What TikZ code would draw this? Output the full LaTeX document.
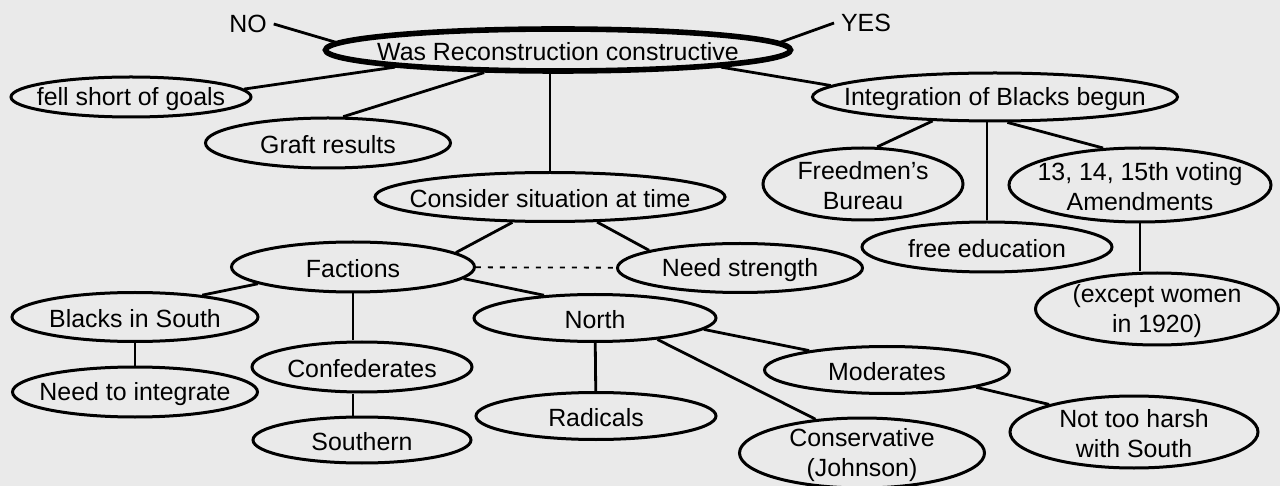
\documentclass[tikz,border=0pt]{standalone}
\usepackage{fontspec}
\setmainfont{Liberation Sans}
\usetikzlibrary{shapes.geometric}
\definecolor{paper}{RGB}{234,234,234}
\tikzset{
  bub/.style={ellipse, draw, line width=1.5pt, inner sep=0pt, fill=paper},
  say/.style={label={[align=center, yshift=-1pt]center:#1}},
  link/.style={line width=1.4pt},
}
\begin{document}
\begin{tikzpicture}[x=0.5pt, y=-0.5pt, font=\fontsize{12.45}{15}\selectfont]
\useasboundingbox (0,0) rectangle (1280,486);
\fill[paper] (0,0) rectangle (1280,486);
\node[bub, line width=2.8pt, minimum width=232.5pt, minimum height=21pt, say=Was Reconstruction constructive] (q) at (558,50) {};
\node (no) at (248,24) {NO};
\node (yes) at (866,23) {YES};
\node[bub, minimum width=120pt, minimum height=20pt, say=fell short of goals] (shortfall) at (131,97) {};
\node[bub, minimum width=122.5pt, minimum height=25pt, say=Graft results] (graft) at (328,143) {};
\node[bub, minimum width=182.5pt, minimum height=24pt, say=Integration of Blacks begun] (integ) at (995,97) {};
\node[bub, minimum width=175pt, minimum height=24.5pt, say=Consider situation at time] (consider) at (550,197) {};
\node[bub, minimum width=100pt, minimum height=36pt, say={Freedmen's\\Bureau}] (freedmen) at (863,184) {};
\node[bub, minimum width=131pt, minimum height=37pt, say={13, 14, 15th voting\\Amendments}] (amend) at (1140,185) {};
\node[bub, minimum width=125pt, minimum height=25pt, say=free education] (educ) at (987,247) {};
\node[bub, minimum width=121.5pt, minimum height=36pt, say={(except women\\in 1920)}] (women) at (1157,309) {};
\node[bub, minimum width=121.5pt, minimum height=25pt, say=Factions] (factions) at (353,267) {};
\node[bub, minimum width=122.5pt, minimum height=24.5pt, say=Need strength] (strength) at (740,268) {};
\node[bub, minimum width=123pt, minimum height=24.5pt, say=Blacks in South] (blacks) at (135,317) {};
\node[bub, minimum width=121pt, minimum height=23.5pt, say=North] (northf) at (595,318) {};
\node[bub, minimum width=122.5pt, minimum height=25pt, say=Need to integrate] (integrate) at (135,392) {};
\node[bub, minimum width=110pt, minimum height=25pt, say=Confederates] (confed) at (362,367) {};
\node[bub, minimum width=122.5pt, minimum height=23.5pt, say=Moderates] (moderates) at (887,370) {};
\node[bub, minimum width=120pt, minimum height=23.5pt, say=Radicals] (radicals) at (596,416) {};
\node[bub, minimum width=109pt, minimum height=23pt, say=Southern] (southern) at (362,440) {};
\node[bub, minimum width=122.5pt, minimum height=35pt, say={Conservative\\(Johnson)}] (conserv) at (862,453) {};
\node[bub, minimum width=124pt, minimum height=36pt, say={Not too harsh\\with South}] (harsh) at (1134,432) {};
\draw[link] (no.east) -- (q.178);
\draw[link] (yes.west) -- (q.2);
\draw[link] (q.186) -- (shortfall.4);
\draw[link] (q.197) -- (graft.60);
\draw[link] (consider.north) -- (consider.north |- q.south);
\draw[link] (q.354) -- (integ.176);
\draw[link] (integ.201) -- (freedmen.69);
\draw[link] (educ.north) -- (educ.north |- integ.south);
\draw[link] (integ.296) -- (amend.135);
\draw[link] (amend.south) -- (amend.south |- women.north);
\draw[link] (consider.214) -- (factions.8);
\draw[link] (consider.332) -- (strength.169);
\draw[line width=0.9pt, dash pattern=on 2.5pt off 3.5pt] (factions) -- (strength);
\draw[link] (factions.190) -- (blacks.18);
\draw[link] (factions.south) -- (factions.south |- confed.north);
\draw[link] (factions.354) -- (northf.156);
\draw[link] (blacks) -- (integrate);
\draw[link] (factions.south |- confed.south) -- (factions.south |- southern.north);
\draw[link] (northf) -- (radicals);
\draw[link] (northf.354) -- (moderates.166);
\draw[link] (northf.341) -- (conserv.144);
\draw[link] (moderates.349) -- (harsh.162);
\end{tikzpicture}
\end{document}
